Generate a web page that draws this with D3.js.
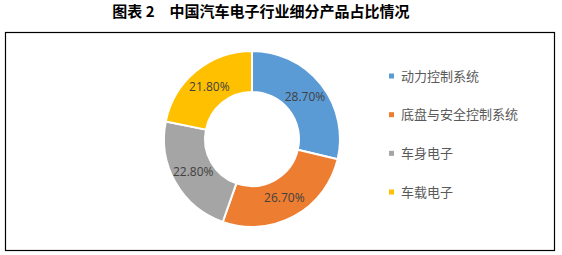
<!DOCTYPE html>
<html>
<head>
<meta charset="utf-8">
<script src="https://cdn.jsdelivr.net/npm/d3@7"></script>
<style>
  html, body { margin: 0; padding: 0; background: #fff; }
  svg { display: block; }
</style>
</head>
<body>
<svg id="chart" width="562" height="255"></svg>
<script>
// chart data
const categories = ['动力控制系统', '底盘与安全控制系统', '车身电子', '车载电子'];
const shares = [28.7, 26.7, 22.8, 21.8];
const colors = ['#5B9BD5', '#ED7D31', '#A5A5A5', '#FFC000'];
const titleText = '图表 2\u3000中国汽车电子行业细分产品占比情况';

const svg = d3.select('#chart');
const cjk = '"Noto Sans CJK SC", "Noto Sans", sans-serif';

// title
svg.append('text')
  .attr('x', 261).attr('y', 17)
  .attr('text-anchor', 'middle')
  .attr('font-family', cjk)
  .attr('font-weight', 'bold')
  .attr('font-size', 15)
  .attr('fill', '#000')
  .text(titleText);

// chart frame
svg.append('rect')
  .attr('x', 5.5).attr('y', 32.5)
  .attr('width', 549).attr('height', 218)
  .attr('fill', '#fff')
  .attr('stroke', '#000')
  .attr('stroke-width', 1.2);

// donut
const cx = 252, cy = 139, rOuter = 88, rInner = 47;
const pie = d3.pie().sort(null).value(d => d)(shares);
const arc = d3.arc().innerRadius(rInner).outerRadius(rOuter);
const labelArc = d3.arc().innerRadius((rInner + rOuter) / 2).outerRadius((rInner + rOuter) / 2);

const g = svg.append('g').attr('transform', `translate(${cx},${cy})`);
g.selectAll('path.slice')
  .data(pie)
  .enter().append('path')
  .attr('class', 'slice')
  .attr('d', arc)
  .attr('fill', (d, i) => colors[i])
  .attr('stroke', '#fff')
  .attr('stroke-width', 2);

g.selectAll('text.lbl')
  .data(pie)
  .enter().append('text')
  .attr('class', 'lbl')
  .attr('transform', d => `translate(${labelArc.centroid(d)})`)
  .attr('text-anchor', 'middle')
  .attr('dy', '0.35em')
  .attr('font-family', '"Open Sans", "DejaVu Sans", sans-serif')
  .attr('font-size', 12)
  .attr('fill', '#404040')
  .text(d => d.data.toFixed(2) + '%');

// legend
const legendY = d3.scalePoint().domain(categories).range([76, 192]);
const leg = svg.append('g');
const rows = leg.selectAll('g.row')
  .data(categories)
  .enter().append('g')
  .attr('class', 'row')
  .attr('transform', d => `translate(389,${legendY(d)})`);
rows.append('rect')
  .attr('x', 0).attr('y', -2.5)
  .attr('width', 5).attr('height', 5)
  .attr('fill', (d, i) => colors[i]);
rows.append('text')
  .attr('x', 12).attr('dy', '0.35em')
  .attr('font-family', cjk)
  .attr('font-size', 13)
  .attr('fill', '#595959')
  .text(d => d);
</script>
</body>
</html>
